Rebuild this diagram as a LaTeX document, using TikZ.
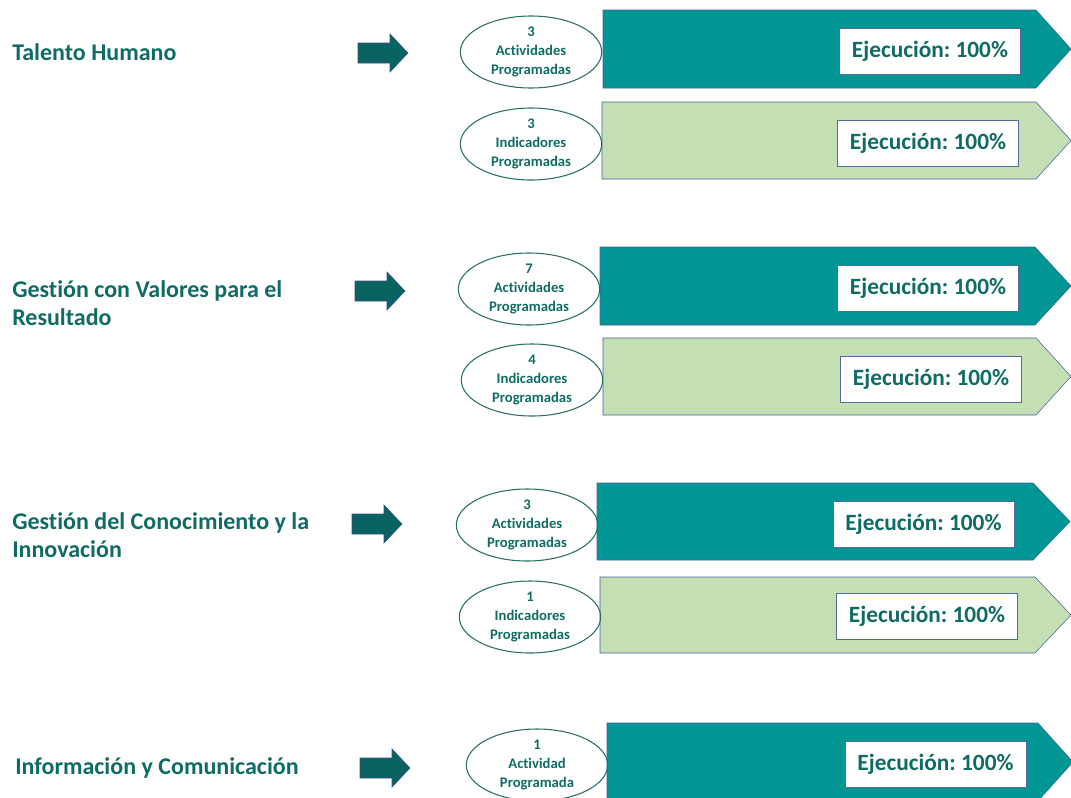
\documentclass[tikz,border=0pt]{standalone}
\usepackage{fontspec}
\setmainfont{Carlito}[Ligatures=NoCommon]
\usepackage{tikz}
\usetikzlibrary{shapes.geometric}

\definecolor{tealband}{RGB}{0,150,148}
\definecolor{greenband}{RGB}{196,223,180}
\definecolor{tealtext}{RGB}{14,108,100}
\definecolor{arrowfill}{RGB}{8,98,95}
\definecolor{arrowline}{RGB}{60,80,140}
\definecolor{bandline}{RGB}{70,95,160}
\definecolor{ovalline}{RGB}{40,112,102}
\definecolor{boxline}{RGB}{85,105,160}

\frenchspacing
\begin{document}
\begin{tikzpicture}
	[
	x=0.75pt, y=-0.75pt,
  title/.style = {anchor=west, align=left, inner sep=0pt, text=tealtext, font=\bfseries\fontsize{18}{21}\selectfont},
  count/.style = {draw=ovalline, thick, ellipse, minimum width=106pt, minimum height=54pt, inner sep=0pt, align=center, text=tealtext, font=\bfseries\fontsize{11}{14}\selectfont},
  score/.style = {draw=boxline, fill=white, minimum width=136pt, minimum height=34.5pt, inner sep=0pt, text=tealtext, font=\bfseries\fontsize{17.5}{21}\selectfont},
  darkband/.style = {draw=bandline, fill=tealband},
  lightband/.style = {draw=bandline, fill=greenband},
  bigarrow/.style = {draw=arrowline, fill=arrowfill}
  ]
	\useasboundingbox (0,0) rectangle (1071,797);

	% Talento Humano
	\node[title] (th) at (12,52) {Talento Humano};
	\draw[bigarrow] (358,53) ++(0,-10) -- ++(32,0) -- ++(0,-9) -- ++(18,19) -- ++(-18,19) -- ++(0,-9) -- ++(-32,0) -- cycle;
	\draw[darkband] (603,10) -- (1036,10) -- (1071,49) -- (1036,88) -- (603,88) -- cycle;
	\draw[lightband] (602,102) -- (1036,102) -- (1071,140.5) -- (1036,179) -- (602,179) -- cycle;
	\node[count] (th1) at (531,52) {3\\Actividades\\Programadas};
	\node[count] (th2) at (531,144) {3\\Indicadores\\Programadas};
	\node[score] (ths1) at (930,51) {Ejecución: 100\%};
	\node[score] (ths2) at (928,143) {Ejecución: 100\%};

	% Gestion con Valores
	\node[title] (gv) at (12,303) {Gestión con Valores para el\\Resultado};
	\draw[bigarrow] (355,291) ++(0,-10) -- ++(32,0) -- ++(0,-9) -- ++(18,19) -- ++(-18,19) -- ++(0,-9) -- ++(-32,0) -- cycle;
	\draw[darkband] (600,247) -- (1035,247) -- (1071,286) -- (1035,325) -- (600,325) -- cycle;
	\draw[lightband] (603,338) -- (1036,338) -- (1071,376.5) -- (1036,415) -- (603,415) -- cycle;
	\node[count] (gv1) at (529,289) {7\\Actividades\\Programadas};
	\node[count] (gv2) at (532,380) {4\\Indicadores\\Programadas};
	\node[score] (gvs1) at (928,288) {Ejecución: 100\%};
	\node[score] (gvs2) at (931,379) {Ejecución: 100\%};

	% Gestion del Conocimiento
	\node[title] (gc) at (12,535) {Gestión del Conocimiento y la\\Innovación};
	\draw[bigarrow] (352,524) ++(0,-10) -- ++(32,0) -- ++(0,-9) -- ++(18,19) -- ++(-18,19) -- ++(0,-9) -- ++(-32,0) -- cycle;
	\draw[darkband] (597,483) -- (1033,483) -- (1070,521.5) -- (1033,560) -- (597,560) -- cycle;
	\draw[lightband] (600,577) -- (1035,577) -- (1071,615) -- (1035,653) -- (600,653) -- cycle;
	\node[count] (gc1) at (527,525) {3\\Actividades\\Programadas};
	\node[count] (gc2) at (530,617) {1\\Indicadores\\Programadas};
	\node[score] (gcs1) at (923.5,524) {Ejecución: 100\%};
	\node[score] (gcs2) at (927,616) {Ejecución: 100\%};

	% Informacion y Comunicacion
	\node[title] (ic) at (15,768) {Información y Comunicación};
	\draw[bigarrow] (360,768) ++(0,-10) -- ++(32,0) -- ++(0,-9) -- ++(18,19) -- ++(-18,19) -- ++(0,-9) -- ++(-32,0) -- cycle;
	\draw[darkband] (607,723) -- (1038,723) -- (1073,762) -- (1038,801) -- (607,801) -- cycle;
	\node[count] (ic1) at (537,765) {1\\Actividad\\Programada};
	\node[score] (ics1) at (935.5,764) {Ejecución: 100\%};
\end{tikzpicture}
\end{document}
